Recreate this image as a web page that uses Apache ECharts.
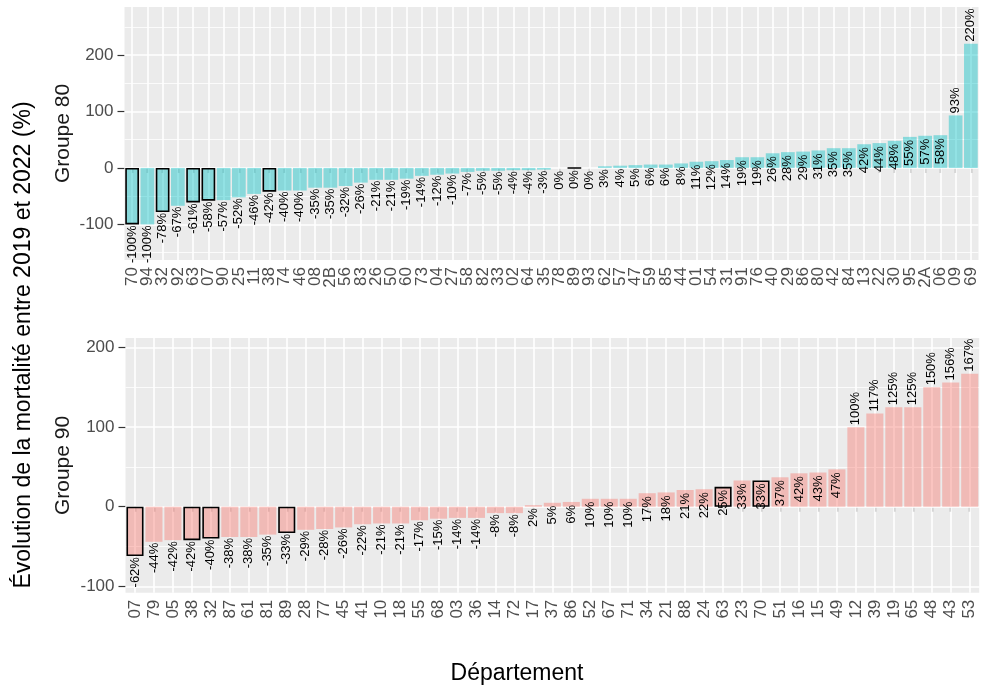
<!DOCTYPE html>
<html>
<head>
<meta charset="utf-8">
<script src="https://cdn.jsdelivr.net/npm/echarts@6/dist/echarts.min.js"></script>
<style>
  html, body { margin: 0; padding: 0; background: #fff; }
  #chart { width: 986px; height: 688px; }
</style>
</head>
<body>
<div id="chart"></div>
<script>
// Départements, groupe d'âge 80 ans
const cats80 = ['70','94','32','92','63','07','90','25','11','38','74','46','08','2B','56','83','26','50','60','73',
                '04','27','58','82','33','02','64','35','78','89','93','62','57','47','59','85','44','01','54','31',
                '91','76','40','29','86','80','42','84','13','22','30','95','2A','06','09','69'];
const vals80 = [-100,-100,-78,-67,-61,-58,-57,-52,-46,-42,-40,-40,-35,-35,-32,-26,-21,-21,-19,-14,
                -12,-10,-7,-5,-5,-4,-4,-3,0,0,0,3,4,5,6,6,8,11,12,14,
                19,19,26,28,29,31,35,35,42,44,48,55,57,58,93,220];

// Départements, groupe d'âge 90 ans
const cats90 = ['07','79','05','38','32','87','61','81','89','28','77','45','41','10','18','55','68','03','36','14',
                '72','17','37','86','52','67','71','34','21','88','24','63','23','70','51','16','15','49','12','39',
                '19','65','48','43','53'];
const vals90 = [-62,-44,-42,-42,-40,-38,-38,-35,-33,-29,-28,-26,-22,-21,-21,-17,-15,-14,-14,-8,
                -8,2,5,6,10,10,10,17,18,21,22,25,33,33,37,42,43,47,100,117,
                125,125,150,156,167];

// Départements encadrés
const highlighted = ['07','32','38','63','70','89'];

// Graduations de l'axe des valeurs
const yTicks = [-100, 0, 100, 200];
const yMinor80 = [-150, -50, 50, 150, 250];
const yMinor90 = [-50, 50, 150];

const FONT = '"Liberation Sans", Arial, Helvetica, sans-serif';
const PANEL = '#EBEBEB';

function labelFor(v) {
  if (v < 0) return { position: 'bottom', distance: 1, align: 'right' };
  if (v < 60) return { position: 'insideTop', distance: 3, align: 'right' };
  return { position: 'top', distance: 2, align: 'left' };
}

function barData(cats, vals) {
  return vals.map((v, i) => {
    const item = { value: v, label: labelFor(v) };
    if (highlighted.includes(cats[i])) {
      item.itemStyle = { borderColor: '#000', borderWidth: 1.6 };
    }
    return item;
  });
}

function gridLines(cats, minor) {
  const major = { color: '#fff', width: 1.6, type: 'solid' };
  const thin = { color: '#fff', width: 0.8, type: 'solid' };
  return []
    .concat(minor.map(v => ({ yAxis: v, lineStyle: thin })))
    .concat(yTicks.map(v => ({ yAxis: v, lineStyle: major })))
    .concat(cats.map(c => ({ xAxis: c, lineStyle: major })));
}

function xAxisFor(idx, cats) {
  return {
    type: 'category', gridIndex: idx, data: cats,
    axisLine: { show: false },
    axisTick: { show: true, alignWithLabel: true, interval: 0, length: 5,
                lineStyle: { color: '#333', width: 1.2 } },
    axisLabel: { interval: 0, rotate: 90, margin: 7, fontSize: 17,
                 color: '#4D4D4D', fontFamily: FONT },
    splitLine: { show: false }
  };
}

function yAxisFor(idx, min, max) {
  return {
    type: 'value', gridIndex: idx, min: min, max: max,
    axisLine: { show: false },
    axisTick: { show: true, customValues: yTicks, length: 7,
                lineStyle: { color: '#333', width: 1.2 } },
    axisLabel: { customValues: yTicks, margin: 11, fontSize: 17,
                 color: '#4D4D4D', fontFamily: FONT },
    splitLine: { show: false }
  };
}

function barSeries(idx, cats, vals, color, minor) {
  return {
    type: 'bar', xAxisIndex: idx, yAxisIndex: idx,
    barWidth: '90%', z: 2,
    itemStyle: { color: color },
    label: { show: true, rotate: 90, verticalAlign: 'middle', fontSize: 13,
             color: '#000', fontFamily: FONT, formatter: p => p.value + '%' },
    data: barData(cats, vals),
    markLine: {
      silent: true, z: 1, symbol: ['none', 'none'], label: { show: false },
      lineStyle: { type: 'solid' }, animation: false,
      data: gridLines(cats, minor)
    }
  };
}

const chart = echarts.init(document.getElementById('chart'), null, { renderer: 'canvas' });

chart.setOption({
  animation: false,
  textStyle: { fontFamily: FONT },
  grid: [
    { left: 124.5, top: 7, width: 854, height: 253, show: true,
      backgroundColor: PANEL, borderWidth: 0 },
    { left: 125.5, top: 338, width: 853.7, height: 254.7, show: true,
      backgroundColor: PANEL, borderWidth: 0 }
  ],
  xAxis: [xAxisFor(0, cats80), xAxisFor(1, cats90)],
  yAxis: [yAxisFor(0, -163, 285), yAxisFor(1, -108, 212)],
  series: [
    barSeries(0, cats80, vals80, 'rgba(0,191,196,0.42)', yMinor80),
    barSeries(1, cats90, vals90, 'rgba(248,118,109,0.42)', yMinor90)
  ],
  graphic: [
    { type: 'text', x: 63, y: 133.5, rotation: Math.PI / 2,
      style: { text: 'Groupe 80', fontSize: 21, fontFamily: FONT, fill: '#1A1A1A',
               textAlign: 'center', textVerticalAlign: 'middle' } },
    { type: 'text', x: 63, y: 465.5, rotation: Math.PI / 2,
      style: { text: 'Groupe 90', fontSize: 21, fontFamily: FONT, fill: '#1A1A1A',
               textAlign: 'center', textVerticalAlign: 'middle' } },
    { type: 'text', x: 24, y: 345, rotation: Math.PI / 2,
      style: { text: 'Évolution de la mortalité entre 2019 et 2022 (%)', fontSize: 23,
               fontFamily: FONT, fill: '#000', textAlign: 'center', textVerticalAlign: 'middle' } },
    { type: 'text', x: 517, y: 674,
      style: { text: 'Département', fontSize: 23, fontFamily: FONT, fill: '#000',
               textAlign: 'center', textVerticalAlign: 'middle' } }
  ]
});
</script>
</body>
</html>
